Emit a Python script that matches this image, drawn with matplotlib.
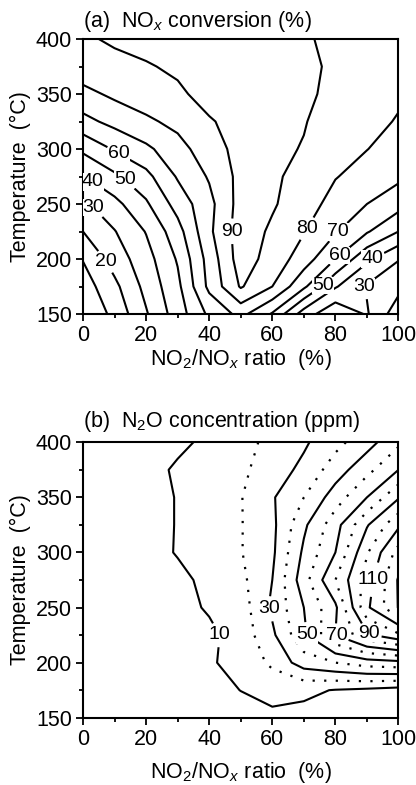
import matplotlib
matplotlib.use("Agg")
import matplotlib.pyplot as plt
from matplotlib.ticker import MultipleLocator

plt.rcParams['font.family'] = ['Liberation Sans', 'DejaVu Sans']
plt.rcParams['mathtext.fontset'] = 'custom'
plt.rcParams['mathtext.rm'] = 'Liberation Sans'
plt.rcParams['mathtext.it'] = 'Liberation Sans:italic'
plt.rcParams['lines.dotted_pattern'] = [1.0, 4.2]

# ---- data ----
ratio = [0, 10, 20, 30, 40, 50, 60, 70, 80, 90, 100]          # NO2/NOx ratio (%)
temperature = [150, 175, 200, 225, 250, 275, 300, 325, 350, 375, 400]  # deg C

# (a) NOx conversion (%), rows = temperature, cols = ratio
nox_conv = [
    [0, 13, 29, 45, 62, 73, 59, 35, 22, 31, 14],
    [5, 17.5, 33, 47.5, 72.5, 91, 80, 62, 41, 29, 23],
    [10.5, 24.5, 36, 51, 74, 95, 86, 75, 60, 42, 30.5],
    [20, 29.5, 40.5, 56, 78, 95, 88.5, 80.5, 71, 61, 50],
    [28, 37, 48.5, 64, 77, 94, 91, 85, 76, 70, 64],
    [39.5, 48, 57, 71, 81, 93, 91.5, 87, 80.5, 76, 72],
    [52, 61, 68, 76, 86, 93, 92, 89.5, 84, 80.2, 76],
    [67, 73, 78, 83, 89.5, 92, 91.5, 90.5, 86, 82, 79.5],
    [77, 82, 86, 89, 92, 93, 92.5, 91.5, 88, 84, 81],
    [86, 88, 89.5, 91, 93, 94, 93, 92, 88.5, 85, 83],
    [89, 91, 92, 93, 94, 95, 94, 91, 88, 86, 84],
]

# (b) N2O concentration (ppm)
n2o_ppm = [
    [0, 0, 0.5, 1, 2, 4, 8, 7, 4, 2, 1],
    [0, 0.5, 1, 2, 5, 10.2, 13, 12, 9.5, 8, 6],
    [0, 1, 2, 3.5, 9, 13, 22, 35, 40, 45, 47],
    [0.5, 1.5, 3, 5, 8, 14, 28, 48, 70, 88, 98],
    [1, 2, 4, 7, 11, 15, 32, 50, 68, 108, 130.5],
    [1.5, 3, 5, 8, 12, 17.5, 30, 56, 80, 105, 131],
    [2, 4, 7, 10.5, 14.5, 19.5, 28, 52, 70, 99, 124],
    [2, 3.5, 6, 10.5, 14.5, 19.5, 27.5, 48, 66, 89, 108],
    [2, 3.5, 6, 10.5, 14, 19.5, 29, 40, 55, 70, 89],
    [2.5, 4, 7.5, 11, 13, 18, 25, 32.5, 45, 57, 70],
    [3, 5, 7, 8.5, 11.5, 17.5, 22, 28.5, 37, 46, 58],
]

nox_levels = [10, 20, 30, 40, 50, 60, 70, 80, 90]
n2o_solid_levels = [10, 30, 50, 70, 90, 110, 130]
n2o_dotted_levels = [20, 40, 60, 80, 100, 120]

# label anchor positions (layout)
nox_label_pos = [(11.7, 298), (14.3, 275), (3.8, 273), (3.8, 248), (8, 199),
                 (48, 225), (70.8, 228), (81.3, 223), (81, 204), (76.6, 174),
                 (92, 199), (88.7, 175)]
n2o_label_pos = [(42.9, 225), (59.3, 249), (70.4, 225), (80.4, 225),
                 (90.5, 225), (92.6, 275)]

FS = 15.5
LFS = 14
fig = plt.figure(figsize=(4.16, 7.85), dpi=100)
ax1 = fig.add_axes([0.1995, 0.600, 0.7584, 0.3503])
ax2 = fig.add_axes([0.1995, 0.0857, 0.7584, 0.3509])


def style(ax, title, title_y, xpad):
    ax.set_xlim(0, 100)
    ax.set_ylim(150, 400)
    ax.xaxis.set_major_locator(MultipleLocator(20))
    ax.xaxis.set_minor_locator(MultipleLocator(10))
    ax.yaxis.set_major_locator(MultipleLocator(50))
    ax.yaxis.set_minor_locator(MultipleLocator(25))
    ax.tick_params(which='major', direction='out', length=5, width=1.3,
                   labelsize=FS, pad=3)
    ax.tick_params(which='minor', direction='out', length=3, width=1.3)
    for s in ax.spines.values():
        s.set_linewidth(1.5)
    ax.set_xlabel('NO$_2$/NO$_x$ ratio  (%)', fontsize=FS, labelpad=xpad)
    ax.set_ylabel('Temperature  (°C)', fontsize=FS, labelpad=3)
    ax.text(0.0, title_y, title, transform=ax.transAxes, ha='left',
            va='baseline', fontsize=FS)


def flat_labels(cs):
    for t in cs.labelTexts:
        t.set_rotation(0)
        t.set_bbox(dict(facecolor='white', edgecolor='none', pad=0.2))


cs1 = ax1.contour(ratio, temperature, nox_conv, levels=nox_levels,
                  colors='k', linewidths=1.5)
ax1.clabel(cs1, fmt='%d', fontsize=LFS, inline=True, inline_spacing=2,
           manual=nox_label_pos)
flat_labels(cs1)
style(ax1, '(a)  NO$_x$ conversion (%)', 1.044, 1)

cs2 = ax2.contour(ratio, temperature, n2o_ppm, levels=n2o_solid_levels,
                  colors='k', linewidths=1.5, linestyles='-')
ax2.contour(ratio, temperature, n2o_ppm, levels=n2o_dotted_levels,
            colors='k', linewidths=1.6, linestyles=':')
ax2.clabel(cs2, fmt='%d', fontsize=LFS, inline=True,
           inline_spacing=2, manual=n2o_label_pos)
flat_labels(cs2)
style(ax2, '(b)  N$_2$O concentration (ppm)', 1.055, 7)

fig.savefig('out.png', dpi=100)
